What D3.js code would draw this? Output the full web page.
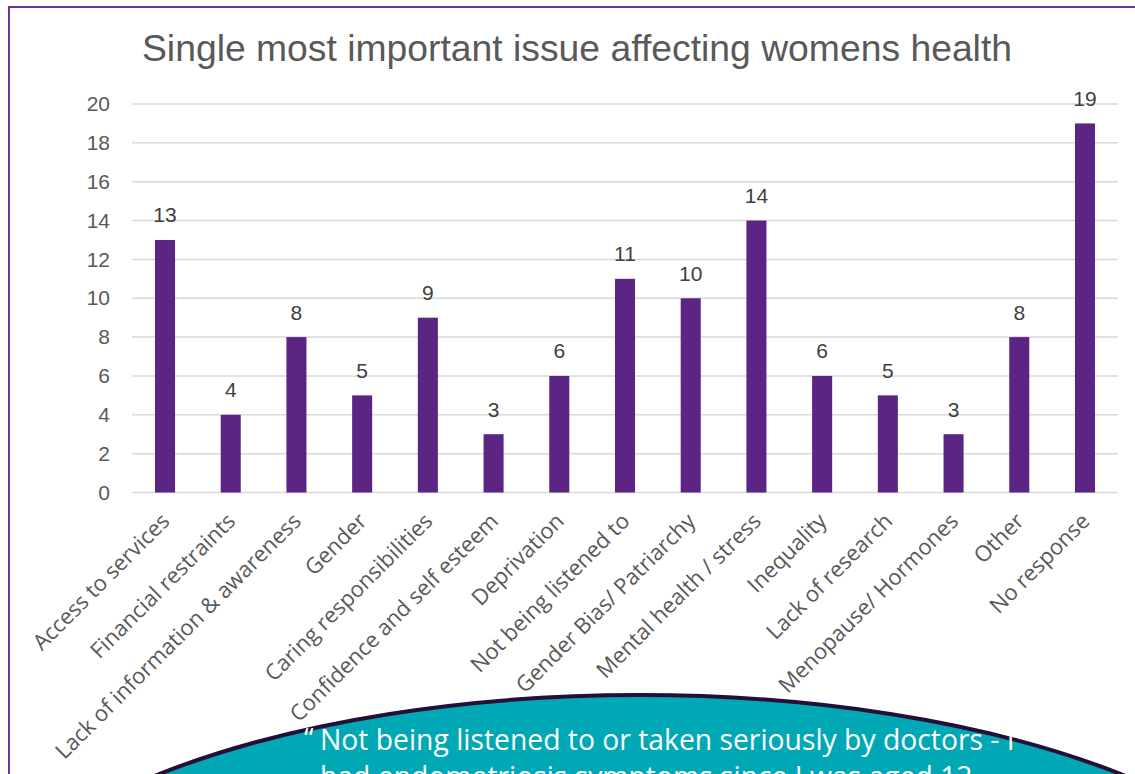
<!DOCTYPE html>
<html>
<head>
<meta charset="utf-8">
<script src="https://cdn.jsdelivr.net/npm/d3@7"></script>
<style>
  body { margin: 0; background: #fff; overflow: hidden; }
</style>
</head>
<body>
<div id="chart"></div>
<script>
// data
var categories = ["Access to services", "Financial restraints", "Lack of information & awareness",
  "Gender", "Caring responsibilities", "Confidence and self esteem", "Deprivation",
  "Not being listened to", "Gender Bias/ Patriarchy", "Mental health / stress",
  "Inequality", "Lack of research", "Menopause/ Hormones", "Other", "No response"];
var values = [13, 4, 8, 5, 9, 3, 6, 11, 10, 14, 6, 5, 3, 8, 19];
var yTicks = [0, 2, 4, 6, 8, 10, 12, 14, 16, 18, 20];
var title = "Single most important issue affecting womens health";
var quoteLines = ["Not being listened to or taken seriously by doctors - I",
  "had endometriosis symptoms since I was aged 12"];

var W = 1135, H = 774;

var svg = d3.select("#chart")
  .append("svg")
    .attr("width", W)
    .attr("height", H);

// chart frame
svg.append("rect")
  .attr("x", 9)
  .attr("y", 7)
  .attr("width", 1200)
  .attr("height", 900)
  .attr("fill", "#fff")
  .attr("stroke", "#7030a0")
  .attr("stroke-width", 2);

var x = d3.scaleBand()
  .domain(categories)
  .range([132, 1118])
  .paddingInner(0.695)
  .paddingOuter(0.35);

var y = d3.scaleLinear()
  .domain([0, 20])
  .range([492.5, 104]);

// gridlines
svg.append("g")
  .selectAll("line")
  .data(yTicks)
  .enter().append("line")
    .attr("x1", 132)
    .attr("x2", 1118)
    .attr("y1", function(d) { return y(d); })
    .attr("y2", function(d) { return y(d); })
    .attr("stroke", "#d9d9d9")
    .attr("stroke-width", 1.5);

// y axis labels
var yAxis = d3.axisLeft(y).tickValues(yTicks).tickSize(0).tickPadding(22);
var gy = svg.append("g")
  .attr("transform", "translate(132,0)")
  .call(yAxis);
gy.select(".domain").remove();
gy.selectAll("text")
  .attr("font-family", "Liberation Sans, Arial, sans-serif")
  .attr("font-size", "21px")
  .attr("fill", "#595959");

// bars
svg.append("g")
  .selectAll("rect")
  .data(values)
  .enter().append("rect")
    .attr("x", function(d, i) { return x(categories[i]); })
    .attr("y", function(d) { return y(d); })
    .attr("width", x.bandwidth())
    .attr("height", function(d) { return y(0) - y(d); })
    .attr("fill", "#5c2483");

// value labels
svg.append("g")
  .selectAll("text")
  .data(values)
  .enter().append("text")
    .attr("x", function(d, i) { return x(categories[i]) + x.bandwidth() / 2; })
    .attr("y", function(d) { return y(d) - 17.5; })
    .attr("text-anchor", "middle")
    .attr("font-family", "Liberation Sans, Arial, sans-serif")
    .attr("font-size", "21px")
    .attr("fill", "#404040")
    .text(function(d) { return d; });

// category labels, rotated
svg.append("g")
  .selectAll("text")
  .data(categories)
  .enter().append("text")
    .attr("transform", function(d) {
      var cx = x(d) + x.bandwidth() / 2 + 6;
      return "translate(" + cx + "," + (y(0) + 30) + ") rotate(-45)";
    })
    .attr("text-anchor", "end")
    .attr("font-family", "Open Sans, sans-serif")
    .attr("font-size", "22px")
    .attr("fill", "#595959")
    .text(function(d) { return d; });

// title
svg.append("text")
  .attr("x", 577)
  .attr("y", 61)
  .attr("text-anchor", "middle")
  .attr("font-family", "Liberation Sans, Arial, sans-serif")
  .attr("font-size", "37.3px")
  .attr("fill", "#595959")
  .text(title);

// quote bubble over the bottom
svg.append("ellipse")
  .attr("cx", 640)
  .attr("cy", 965)
  .attr("rx", 680)
  .attr("ry", 270)
  .attr("fill", "#00a8b5")
  .attr("stroke", "#230f3a")
  .attr("stroke-width", 4);

svg.append("text")
  .attr("x", 304)
  .attr("y", 748)
  .attr("font-family", "Open Sans, sans-serif")
  .attr("font-size", "27px")
  .attr("fill", "#fff")
  .text("\u201C");

svg.append("g")
  .selectAll("text")
  .data(quoteLines)
  .enter().append("text")
    .attr("x", 320)
    .attr("y", function(d, i) { return 750 + i * 37; })
    .attr("font-family", "Open Sans, sans-serif")
    .attr("font-size", "28.3px")
    .attr("fill", "#fff")
    .text(function(d) { return d; });
</script>
</body>
</html>
